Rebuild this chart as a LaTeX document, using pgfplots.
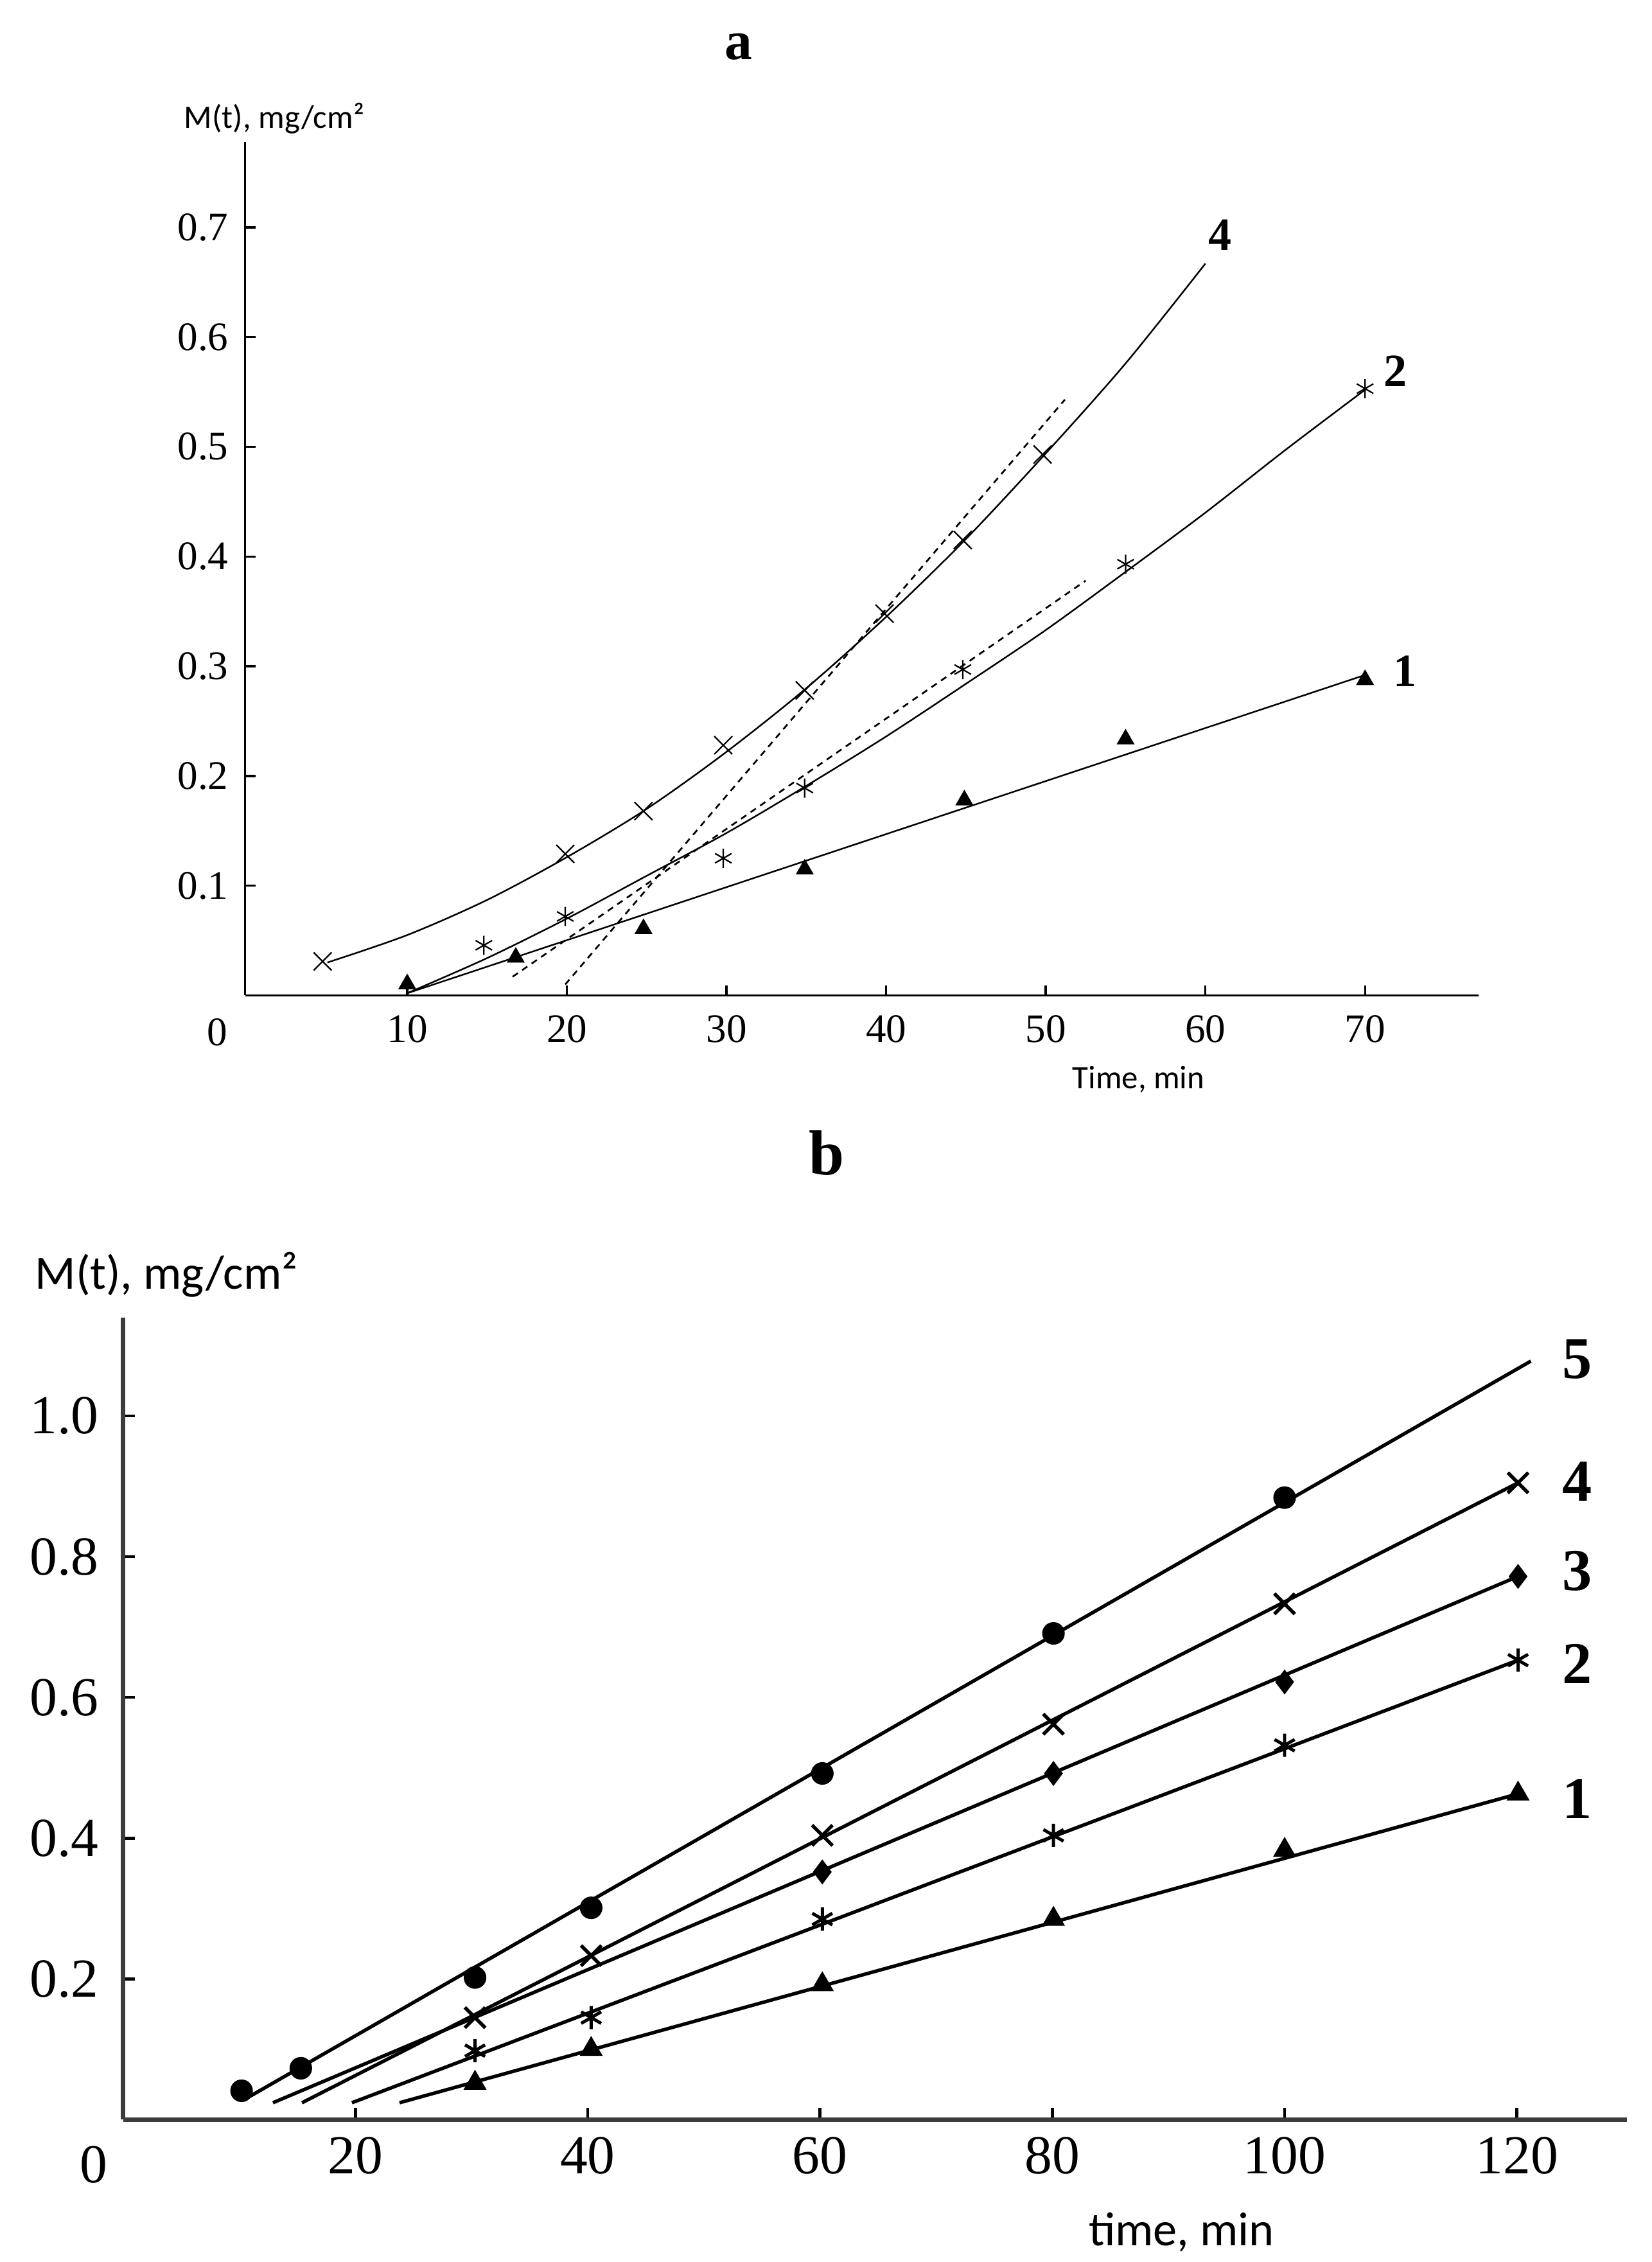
\documentclass[border=0pt]{standalone}
\usepackage{pgfplots}
\pgfplotsset{compat=1.18}
\usepackage{fontspec}
\setmainfont{Liberation Serif}
\newfontfamily\sanslab{Carlito}
\definecolor{axgray}{RGB}{60,60,60}
\begin{document}
\begin{tikzpicture}
\useasboundingbox (0,0) rectangle (571bp,781.7bp);
% ---------------- panel a ----------------
\begin{axis}[
  at={(84.75bp,437.7bp)}, anchor=south west, scale only axis,
  width=426.25bp, height=295bp,
  xmin=-0.15, xmax=77.1, ymin=0, ymax=0.778,
  axis x line*=bottom, axis y line*=left,
  axis line style={line width=0.75bp, black},
  xtick={10,20,30,40,50,60,70}, xticklabels={10,20,30,40,50,60,70},
  ytick={0.1,0.2,0.3,0.4,0.5,0.6,0.7}, yticklabels={0.1,0.2,0.3,0.4,0.5,0.6,0.7},
  tick align=inside, major tick length=3.5bp,
  tick style={line width=0.75bp, black},
  xticklabel style={font=\fontsize{14bp}{16bp}\selectfont, yshift=-3.4bp},
  yticklabel style={font=\fontsize{14bp}{16bp}\selectfont, xshift=-2.3bp},
  /pgf/number format/assume math mode=true,
  clip=false,
]
% curve 1 (fitted line)
\addplot[black, line width=0.55bp] coordinates {(10,0.002) (70,0.292)};
% curve 2
\addplot[black, line width=0.55bp, smooth] coordinates {
 (10,0.002) (15,0.034) (20,0.070) (25,0.109) (30,0.148) (35,0.191) (40,0.236)
 (45,0.284) (50,0.333) (55,0.386) (60,0.440) (65,0.497) (70,0.552)};
% curve 4
\addplot[black, line width=0.55bp, smooth] coordinates {
 (5,0.030) (10,0.055) (15,0.087) (20,0.126) (25,0.170) (30,0.222) (35,0.280)
 (40,0.345) (45,0.416) (50,0.494) (55,0.576) (60,0.667)};
% dashed tangents
\addplot[black, line width=0.6bp, dash pattern=on 2.2bp off 1.8bp] coordinates {(19.9,0.010) (51.2,0.543)};
\addplot[black, line width=0.6bp, dash pattern=on 2.2bp off 1.8bp] coordinates {(16.6,0.017) (52.5,0.378)};
% markers series 1
\addplot[only marks, mark=triangle*, mark size=3.2bp, black] coordinates {
 (10,0.0104) (16.8,0.0346) (24.8,0.0607) (34.9,0.115) (44.9,0.178) (55,0.2335) (70,0.2876)};
% markers series 2
\addplot[only marks, mark=asterisk, mark size=3.3bp, black, mark options={line width=0.5bp}] coordinates {
 (14.8,0.0457) (19.9,0.072) (29.8,0.125) (34.9,0.189) (44.8,0.297) (55,0.393) (70,0.553)};
% markers series 4
\addplot[only marks, mark=x, mark size=4.4bp, black, mark options={line width=0.5bp}] coordinates {
 (4.7,0.031) (19.9,0.129) (24.8,0.168) (29.8,0.228) (34.9,0.278) (39.9,0.348) (44.8,0.415) (49.8,0.493)};
\node[font=\bfseries\fontsize{16bp}{18bp}\selectfont] at (axis cs:60.9,0.693) {4};
\node[font=\bfseries\fontsize{16bp}{18bp}\selectfont] at (axis cs:71.9,0.569) {2};
\node[font=\bfseries\fontsize{16bp}{18bp}\selectfont] at (axis cs:72.5,0.2955) {1};
\end{axis}
\node[font=\bfseries\fontsize{19bp}{21bp}\selectfont] at (255.3bp,765.5bp) {a};
\node[font=\sanslab\fontsize{11.3bp}{13bp}\selectfont] at (94.8bp,740.7bp) {M(t), mg/cm²};
\node[font=\sanslab\fontsize{11.3bp}{13bp}\selectfont] at (393.5bp,408.7bp) {Time, min};
\node[font=\fontsize{14bp}{16bp}\selectfont] at (75.2bp,424.9bp) {0};
% ---------------- panel b ----------------
\begin{axis}[
  at={(42.55bp,49.2bp)}, anchor=south west, scale only axis,
  width=519.9bp, height=277.2bp,
  xmin=0, xmax=129.5, ymin=0, ymax=1.14,
  axis x line*=bottom, axis y line*=left,
  axis line style={line width=1.5bp, axgray},
  xtick={20,40,60,80,100,120}, xticklabels={20,40,60,80,100,120},
  ytick={0.2,0.4,0.6,0.8,1.0}, yticklabels={0.2,0.4,0.6,0.8,1.0},
  tick align=inside, major tick length=4bp,
  tick style={line width=1bp, black},
  xticklabel style={font=\fontsize{19bp}{21bp}\selectfont, yshift=-2.5bp},
  yticklabel style={font=\fontsize{19bp}{21bp}\selectfont, xshift=-5bp},
  /pgf/number format/assume math mode=true,
  clip=false,
]
% fitted lines
\addplot[black, line width=1.2bp] coordinates {(10.8,0.032) (121.2,1.078)};
\addplot[black, line width=1.2bp] coordinates {(15.4,0.024) (120.1,0.905)};
\addplot[black, line width=1.2bp] coordinates {(12.9,0.024) (120.1,0.772)};
\addplot[black, line width=1.2bp] coordinates {(19.7,0.024) (120.1,0.653)};
\addplot[black, line width=1.2bp] coordinates {(23.8,0.024) (120.1,0.463)};
% series 5
\addplot[only marks, mark=*, mark size=3.7bp, black] coordinates {
 (10.2,0.041) (15.3,0.073) (30.3,0.202) (40.3,0.301) (60.2,0.492) (80.1,0.691) (100,0.884)};
% series 4
\addplot[only marks, mark=x, mark size=5bp, black, mark options={line width=1.2bp}] coordinates {
 (30.3,0.145) (40.3,0.233) (60.2,0.404) (80.1,0.562) (100,0.733) (120.1,0.905)};
% series 3
\addplot[only marks, mark=diamond*, mark size=4bp, black] coordinates {
 (60.2,0.352) (80.1,0.492) (100,0.622) (120.1,0.772)};
% series 2
\addplot[only marks, mark=asterisk, mark size=4bp, black, mark options={line width=1.1bp}] coordinates {
 (30.3,0.098) (40.3,0.145) (60.2,0.285) (80.1,0.404) (100,0.532) (120.1,0.653)};
% series 1
\addplot[only marks, mark=triangle*, mark size=4.2bp, black] coordinates {
 (30.3,0.052) (40.3,0.100) (60.2,0.192) (80.1,0.285) (100,0.383) (120.1,0.463)};
\node[font=\bfseries\fontsize{20.5bp}{22bp}\selectfont] at (axis cs:125.2,1.081) {5};
\node[font=\bfseries\fontsize{20.5bp}{22bp}\selectfont] at (axis cs:125.2,0.907) {4};
\node[font=\bfseries\fontsize{20.5bp}{22bp}\selectfont] at (axis cs:125.2,0.780) {3};
\node[font=\bfseries\fontsize{20.5bp}{22bp}\selectfont] at (axis cs:125.2,0.648) {2};
\node[font=\bfseries\fontsize{20.5bp}{22bp}\selectfont] at (axis cs:125.2,0.456) {1};
\end{axis}
\node[font=\bfseries\fontsize{22bp}{24bp}\selectfont] at (285.75bp,383.2bp) {b};
\node[font=\sanslab\fontsize{16.5bp}{18bp}\selectfont] at (57.5bp,341.2bp) {M(t), mg/cm²};
\node[font=\sanslab\fontsize{16.5bp}{18bp}\selectfont] at (408.35bp,10.2bp) {time, min};
\node[font=\fontsize{19bp}{21bp}\selectfont] at (32.5bp,33.7bp) {0};
\end{tikzpicture}
\end{document}
